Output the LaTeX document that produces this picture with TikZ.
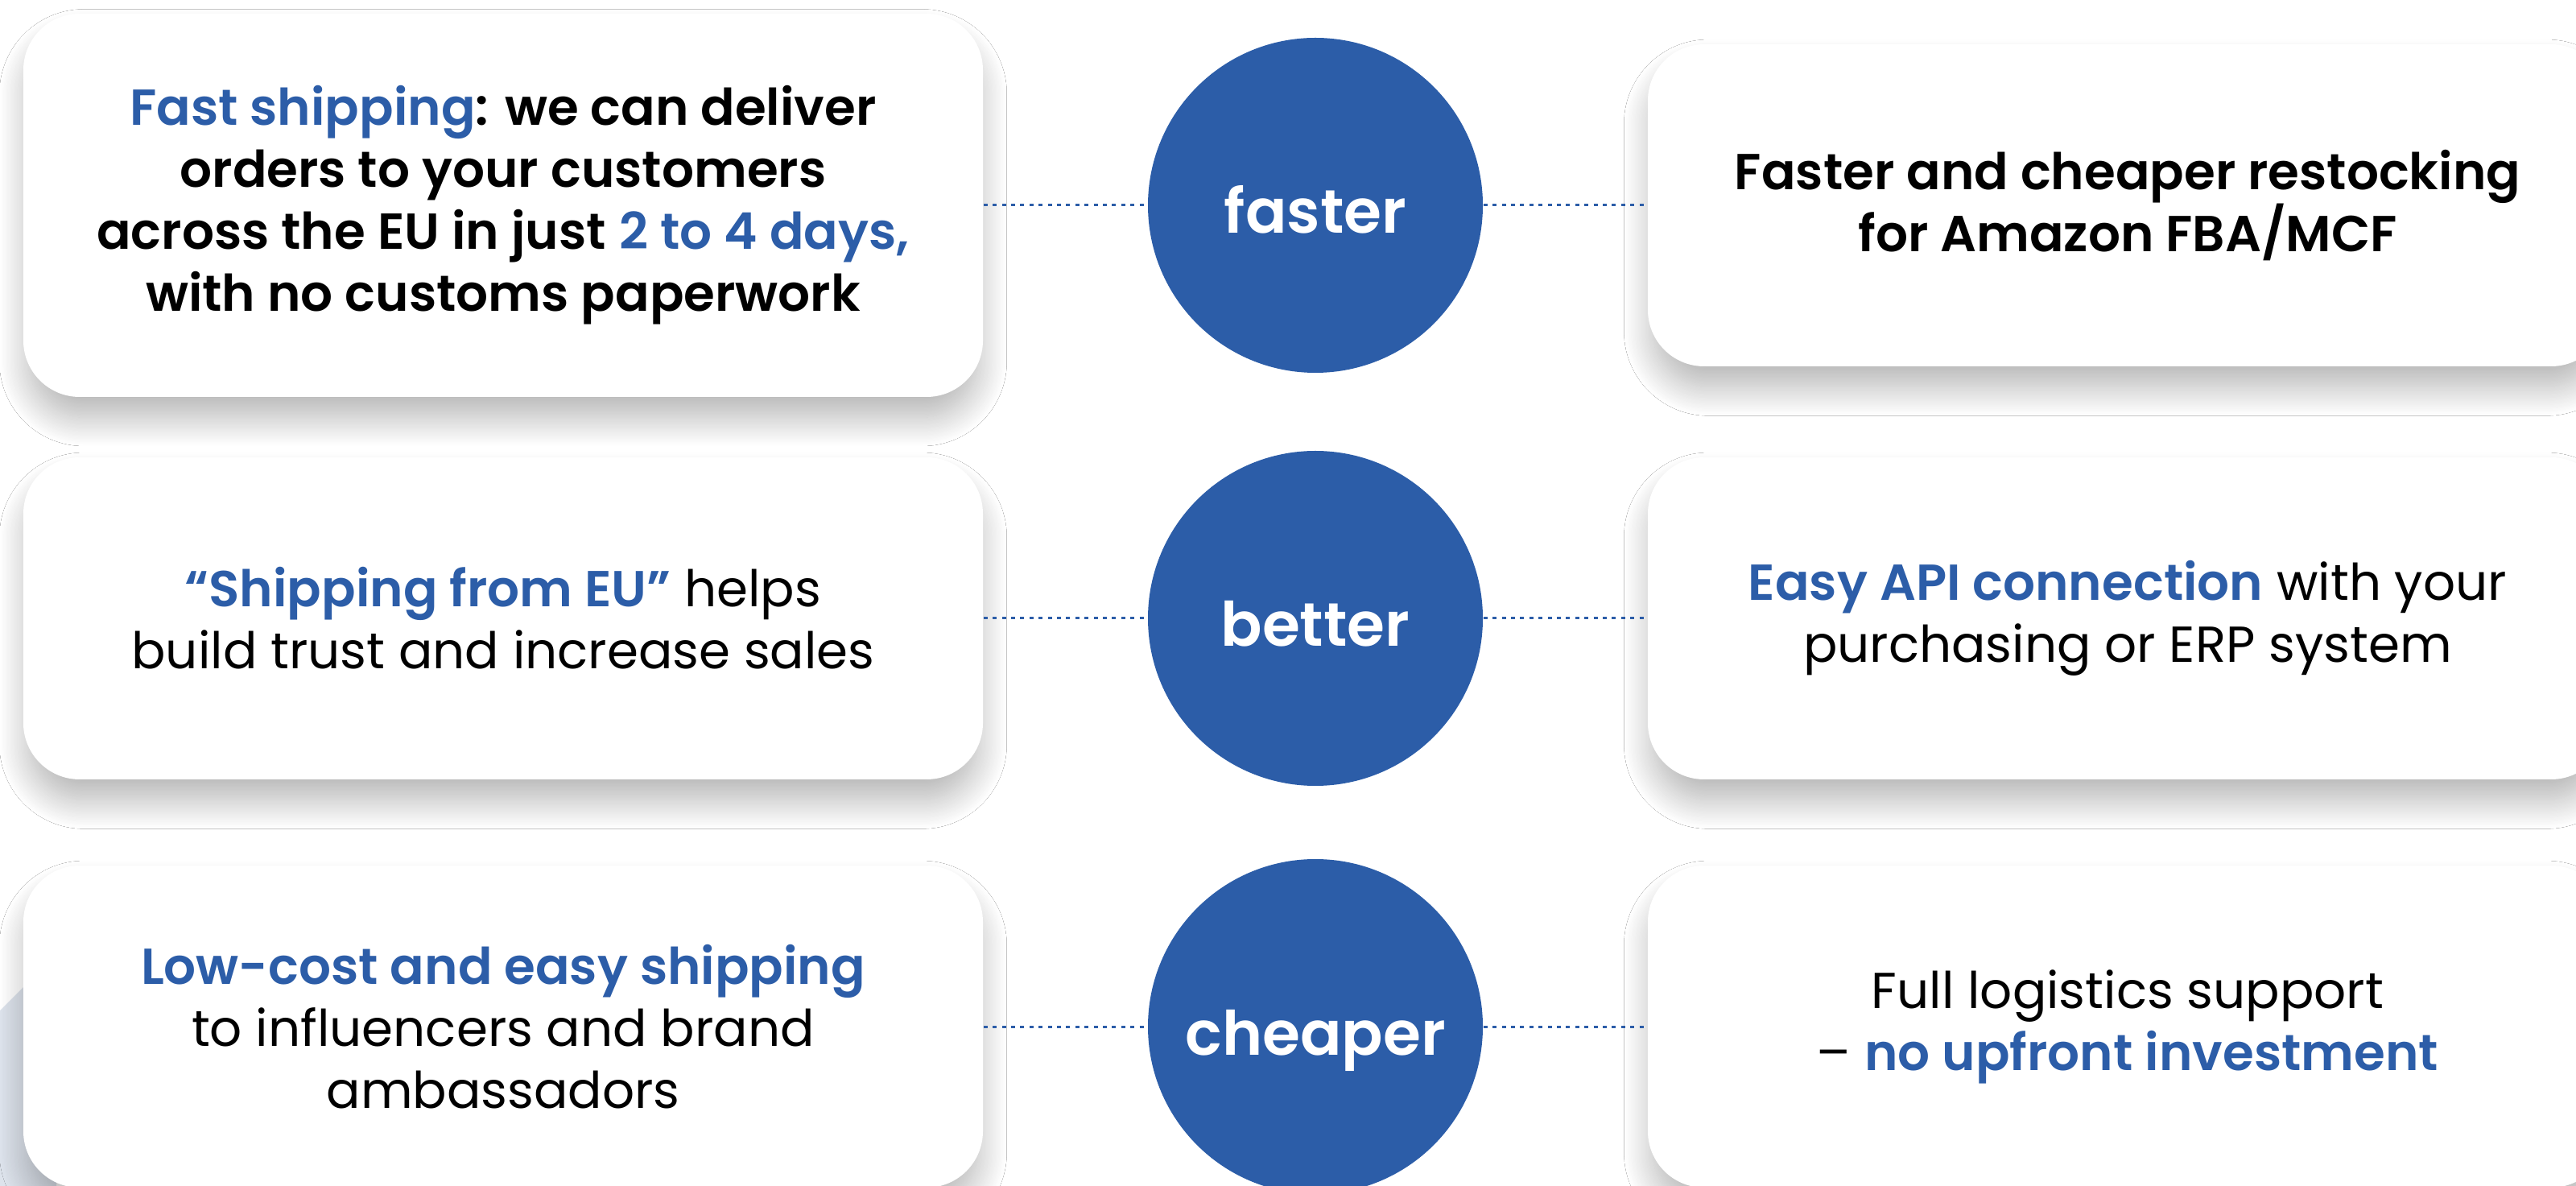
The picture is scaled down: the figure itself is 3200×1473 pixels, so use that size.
\documentclass[tikz,border=0pt]{standalone}
\usepackage{fontspec}
\setmainfont{Poppins}[BoldFont={Poppins SemiBold}]
\usetikzlibrary{shadows.blur}
\definecolor{brandblue}{HTML}{2C5DA8}
\definecolor{backshade}{HTML}{DDE3EC}
\tikzset{%
  card/.style     = {shape=rectangle, rounded corners=17.5pt,%
                     fill=white, align=center, inner sep=0pt,%
                     minimum width=298pt, minimum height=100pt,%
                     blur shadow={shadow xshift=0pt, shadow yshift=-7pt,%
                                  shadow scale=0.99, shadow blur steps=30,%
                                  shadow blur radius=9pt, shadow opacity=30}},%
  tallcard/.style = {card, minimum height=119pt},%
  hub/.style      = {circle, fill=brandblue, text=white, minimum size=104pt,%
                     text height=17.5pt, text depth=0pt,%
                     font=\fontsize{19}{23}\selectfont\bfseries},%
  link/.style     = {brandblue, line width=0.75pt, dash pattern=on 1.25pt off 1.6pt}%
}
\newcommand{\hl}[1]{\textcolor{brandblue}{\textbf{#1}}}
\begin{document}
\begin{tikzpicture}[x=0.25pt,y=-0.25pt,
	every node/.style = {font=\fontsize{15.7}{19.25}\selectfont}]
	\useasboundingbox (0,0) rectangle (3200,1473);
	\clip (0,0) rectangle (3200,1473);
	\fill[white] (0,0) rectangle (3200,1473);
	\fill[backshade] (0,1255) -- (70,1185) -- (70,1473) -- (0,1473) -- cycle;
	% left column
	\node[tallcard] (ship) at (625,255)
		{\hl{Fast shipping}\textbf{: we can deliver}\\
		 \textbf{orders to your customers}\\
		 \textbf{across the EU in just} \hl{2 to 4 days,}\\
		 \textbf{with no customs paperwork}};
	\node[card] (trust) at (625,768)
		{\hl{“Shipping from EU”} helps\\ build trust and increase sales};
	\node[card] (promo) at (625,1275)
		{\hl{Low-cost and easy shipping}\\ to influencers and brand\\ ambassadors};
	% right column
	\node[card] (restock) at (2643,255)
		{\textbf{Faster and cheaper restocking}\\ \textbf{for Amazon FBA/MCF}};
	\node[card] (api) at (2643,768)
		{\hl{Easy API connection} with your\\ purchasing or ERP system};
	\node[card] (support) at (2643,1275)
		{Full logistics support\\ – \hl{no upfront investment}};
	% middle column
	\node[hub] (faster)  at (1634,255)  {faster};
	\node[hub] (better)  at (1634,768)  {better};
	\node[hub] (cheaper) at (1634,1275) {cheaper};
	\draw[link] (ship.east)    -- (faster.west);
	\draw[link] (faster.east)  -- (restock.west);
	\draw[link] (trust.east)   -- (better.west);
	\draw[link] (better.east)  -- (api.west);
	\draw[link] (promo.east)   -- (cheaper.west);
	\draw[link] (cheaper.east) -- (support.west);
\end{tikzpicture}
\end{document}
